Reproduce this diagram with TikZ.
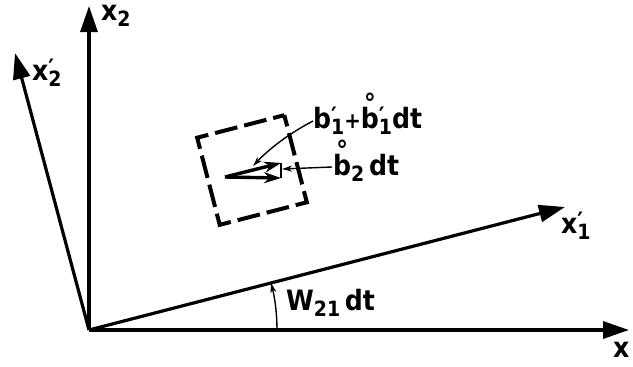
\documentclass[tikz,border=0pt]{standalone}
\usepackage{fontspec}
\setmainfont{DejaVu Sans Condensed}
\usetikzlibrary{arrows.meta}
\newcommand{\lsub}[1]{\raisebox{-6pt}{\fontsize{21}{21}\selectfont #1}}
\newcommand{\lpr}{\makebox[0pt][l]{\raisebox{4pt}{\fontsize{24}{24}\selectfont ′}}}
\newcommand{\ringb}{\ooalign{b\cr\hidewidth\raisebox{16pt}{\fontsize{26}{26}\selectfont °}\hidewidth\cr}}
\newcommand{\lplus}{{\fontsize{22}{22}\selectfont +}}
\begin{document}
\begin{tikzpicture}[x=1pt,y=-1pt,
  axis/.style={line width=3.2pt,-{Triangle[length=26pt,width=17pt]}},
  lbl/.style={inner sep=0pt,anchor=base west,font=\fontsize{28}{28}\selectfont\bfseries},
  axl/.style={inner sep=0pt,anchor=base west,font=\fontsize{28}{28}\selectfont\bfseries},
  vecarrow/.style={line width=3.4pt,-{Stealth[length=17pt,width=11pt]}},
  leader/.style={line width=1.4pt,-{Stealth[length=10pt,width=6pt]}},
  frame/.style={draw,line width=4pt,minimum size=90pt,inner sep=0pt,rotate=14.5,
    dash pattern=on 23pt off 7pt,dash phase=11.5pt}]
\useasboundingbox (0,0) rectangle (633,367);
% axes
\coordinate (O) at (89,330);
\coordinate (X) at (629,330);
\coordinate (X2) at (89,6);
\coordinate (X1p) at (565,207);
\coordinate (X2p) at (15,53);
\draw[axis] (O) -- (X);
\draw[axis] (O) -- (X2);
\draw[axis] (O) -- (X1p);
\draw[axis] (O) -- (X2p);
\node[axl] (xlbl) at (613,357) {x};
\node[axl] (x2lbl) at (101,20) {x\lsub{2}};
\node[axl] (x1plbl) at (561,233) {x\lpr\lsub{1}};
\node[axl] (x2plbl) at (32,80) {x\lpr\lsub{2}};
% angle
\coordinate (A1) at (277,330);
\draw[leader] (A1) arc[start angle=0,end angle=-14.5,radius=188];
\node[lbl] (wlbl) at (286,310) {W\lsub{21}\,dt};
% frame
\node[frame] (sq) at (252,170) {};
% vectors
\coordinate (S) at (225,177);
\coordinate (U) at (281,163);
\coordinate (L) at (281,178);
\draw[vecarrow] (S) -- (U);
\draw[vecarrow] (S) -- (L);
\draw[line width=2.2pt] (U) -- (L);
% labels
\node[lbl] (b1lbl) at (313,128) {b\lpr\lsub{1}\lplus\ringb\lpr\lsub{1}dt};
\node[lbl] (b2lbl) at (333,175) {\ringb\lsub{2}\,dt};
\coordinate (B1s) at (313,121);
\coordinate (B1e) at (253,166);
\draw[leader] (B1s) .. controls (290,133) and (270,148) .. (B1e);
\coordinate (B2s) at (332,167);
\coordinate (B2e) at (282,169);
\draw[leader] (B2s) -- (B2e);
\end{tikzpicture}
\end{document}
